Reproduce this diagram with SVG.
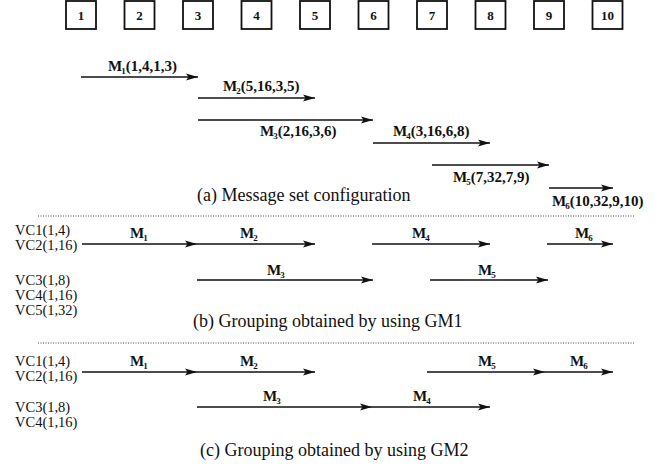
<svg xmlns="http://www.w3.org/2000/svg" width="658" height="465" viewBox="0 0 658 465">
<defs>
<marker id="ah" markerUnits="userSpaceOnUse" markerWidth="12" markerHeight="8" refX="12" refY="4" orient="auto"><path d="M0,0.5 L12,4 L0,7.5 L2.5,4 z" fill="#111"/></marker>
</defs>
<style>
.box{fill:#fff;stroke:#111;stroke-width:1.8}
.num{font-family:"Liberation Serif",serif;font-size:13px;font-weight:bold;fill:#111;text-anchor:middle}
.lbl{font-family:"Liberation Serif",serif;font-size:15px;font-weight:bold;fill:#111}
.sub{font-size:9px}
.vc{font-family:"Liberation Serif",serif;font-size:14.5px;fill:#111}
.cap{font-family:"Liberation Serif",serif;font-size:18px;fill:#111}
.arr{stroke:#111;stroke-width:1.6;fill:none;marker-end:url(#ah)}
.dot{stroke:#444;stroke-width:1;stroke-dasharray:1 1.5}
</style>
<rect width="658" height="465" fill="#fff"/>
<g id="node1"><rect class="box" x="66" y="1" width="30" height="28"/><text class="num" x="81" y="20">1</text></g>
<g id="node2"><rect class="box" x="124.5" y="1" width="30" height="28"/><text class="num" x="139.5" y="20">2</text></g>
<g id="node3"><rect class="box" x="183" y="1" width="30" height="28"/><text class="num" x="198" y="20">3</text></g>
<g id="node4"><rect class="box" x="241.5" y="1" width="30" height="28"/><text class="num" x="256.5" y="20">4</text></g>
<g id="node5"><rect class="box" x="300" y="1" width="30" height="28"/><text class="num" x="315" y="20">5</text></g>
<g id="node6"><rect class="box" x="358.5" y="1" width="30" height="28"/><text class="num" x="373.5" y="20">6</text></g>
<g id="node7"><rect class="box" x="417" y="1" width="30" height="28"/><text class="num" x="432" y="20">7</text></g>
<g id="node8"><rect class="box" x="475.5" y="1" width="30" height="28"/><text class="num" x="490.5" y="20">8</text></g>
<g id="node9"><rect class="box" x="534" y="1" width="30" height="28"/><text class="num" x="549" y="20">9</text></g>
<g id="node10"><rect class="box" x="592.5" y="1" width="30" height="28"/><text class="num" x="607.5" y="20">10</text></g>

<g id="connectors">
<line class="arr" x1="81" y1="77" x2="198" y2="77"/>
<line class="arr" x1="198" y1="98" x2="315" y2="98"/>
<line class="arr" x1="198" y1="120" x2="373" y2="120"/>
<line class="arr" x1="373" y1="143" x2="490" y2="143"/>
<line class="arr" x1="432" y1="165" x2="549" y2="165"/>
<line class="arr" x1="549" y1="188" x2="613" y2="188"/>

<line class="arr" x1="82" y1="244" x2="197" y2="244"/>
<line class="arr" x1="197" y1="244" x2="315" y2="244"/>
<line class="arr" x1="372" y1="244" x2="490" y2="244"/>
<line class="arr" x1="547" y1="244" x2="613" y2="244"/>
<line class="arr" x1="197" y1="280" x2="373" y2="280"/>
<line class="arr" x1="430" y1="280" x2="548" y2="280"/>

<line class="arr" x1="82" y1="372" x2="197" y2="372"/>
<line class="arr" x1="197" y1="372" x2="315" y2="372"/>
<line class="arr" x1="427" y1="372" x2="545" y2="372"/>
<line class="arr" x1="545" y1="372" x2="613" y2="372"/>
<line class="arr" x1="197" y1="407" x2="372" y2="407"/>
<line class="arr" x1="372" y1="407" x2="490" y2="407"/>
</g>

<g id="separators">
<line class="dot" x1="38" y1="216" x2="634" y2="216"/>
<line class="dot" x1="38" y1="343" x2="634" y2="343"/>
</g>

<g id="labels-a">
<text class="lbl" x="108" y="71">M<tspan class="sub" dx="-1" dy="3">1</tspan><tspan dy="-3">(1,4,1,3)</tspan></text>
<text class="lbl" x="223" y="91">M<tspan class="sub" dx="-1" dy="3">2</tspan><tspan dy="-3">(5,16,3,5)</tspan></text>
<text class="lbl" x="260" y="136">M<tspan class="sub" dx="-1" dy="3">3</tspan><tspan dy="-3">(2,16,3,6)</tspan></text>
<text class="lbl" x="393" y="136">M<tspan class="sub" dx="-1" dy="3">4</tspan><tspan dy="-3">(3,16,6,8)</tspan></text>
<text class="lbl" x="453" y="182">M<tspan class="sub" dx="-1" dy="3">5</tspan><tspan dy="-3">(7,32,7,9)</tspan></text>
<text class="lbl" x="552" y="206">M<tspan class="sub" dx="-1" dy="3">6</tspan><tspan dy="-3">(10,32,9,10)</tspan></text>
<text class="cap" x="197" y="201">(a) Message set configuration</text>
</g>

<g id="labels-b">
<text class="vc" x="15" y="235">VC1(1,4)</text>
<text class="vc" x="15" y="250">VC2(1,16)</text>
<text class="vc" x="15" y="285">VC3(1,8)</text>
<text class="vc" x="15" y="300">VC4(1,16)</text>
<text class="vc" x="15" y="315">VC5(1,32)</text>
<text class="lbl" x="130" y="238">M<tspan class="sub" dx="-1" dy="3">1</tspan></text>
<text class="lbl" x="240" y="238">M<tspan class="sub" dx="-1" dy="3">2</tspan></text>
<text class="lbl" x="412" y="238">M<tspan class="sub" dx="-1" dy="3">4</tspan></text>
<text class="lbl" x="575" y="238">M<tspan class="sub" dx="-1" dy="3">6</tspan></text>
<text class="lbl" x="267" y="275">M<tspan class="sub" dx="-1" dy="3">3</tspan></text>
<text class="lbl" x="478" y="275">M<tspan class="sub" dx="-1" dy="3">5</tspan></text>
<text class="cap" x="193" y="327">(b) Grouping obtained by using GM1</text>
</g>

<g id="labels-c">
<text class="vc" x="15" y="366">VC1(1,4)</text>
<text class="vc" x="15" y="381">VC2(1,16)</text>
<text class="vc" x="15" y="412">VC3(1,8)</text>
<text class="vc" x="15" y="427">VC4(1,16)</text>
<text class="lbl" x="130" y="366">M<tspan class="sub" dx="-1" dy="3">1</tspan></text>
<text class="lbl" x="240" y="366">M<tspan class="sub" dx="-1" dy="3">2</tspan></text>
<text class="lbl" x="478" y="366">M<tspan class="sub" dx="-1" dy="3">5</tspan></text>
<text class="lbl" x="570" y="366">M<tspan class="sub" dx="-1" dy="3">6</tspan></text>
<text class="lbl" x="263" y="401">M<tspan class="sub" dx="-1" dy="3">3</tspan></text>
<text class="lbl" x="413" y="401">M<tspan class="sub" dx="-1" dy="3">4</tspan></text>
<text class="cap" x="200" y="456">(c) Grouping obtained by using GM2</text>
</g>
</svg>
